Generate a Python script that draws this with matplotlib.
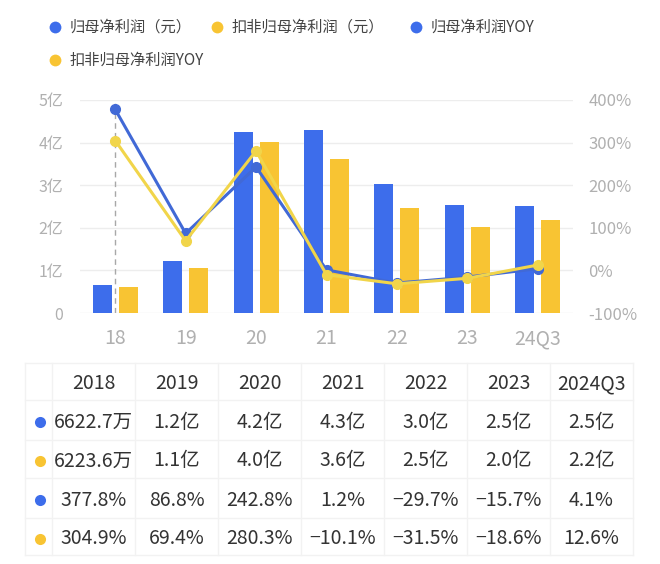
import numpy as np
import matplotlib.pyplot as plt

plt.rcParams['font.family'] = ['Noto Sans CJK SC', 'DejaVu Sans']

# data
cats = ['18', '19', '20', '21', '22', '23', '24Q3']
years = ['2018', '2019', '2020', '2021', '2022', '2023', '2024Q3']
profit = [0.662, 1.22, 4.24, 4.29, 3.02, 2.53, 2.51]        # 亿
profit_adj = [0.622, 1.06, 4.01, 3.61, 2.46, 2.02, 2.18]    # 亿
yoy = [377.8, 86.8, 242.8, 1.2, -29.7, -15.7, 4.1]
yoy_adj = [304.9, 69.4, 280.3, -10.1, -31.5, -18.6, 12.6]
row_profit = ['6622.7万', '1.2亿', '4.2亿', '4.3亿', '3.0亿', '2.5亿', '2.5亿']
row_profit_adj = ['6223.6万', '1.1亿', '4.0亿', '3.6亿', '2.5亿', '2.0亿', '2.2亿']
row_yoy = ['377.8%', '86.8%', '242.8%', '1.2%', '−29.7%', '−15.7%', '4.1%']
row_yoy_adj = ['304.9%', '69.4%', '280.3%', '−10.1%', '−31.5%', '−18.6%', '12.6%']
legend_names = ['归母净利润（元）', '扣非归母净利润（元）', '归母净利润YOY', '扣非归母净利润YOY']

BLUE = '#3D6DEB'
YELLOW = '#F8C433'
LBLUE = '#4169D6'
LYELLOW = '#F1D54A'
GRID = '#EDEDED'
TICK = '#B0B0B0'

W, H = 660, 564
fig = plt.figure(figsize=(W / 100, H / 100), dpi=100)

# main chart
ax = fig.add_axes([80 / W, 1 - 313 / H, 493 / W, 213 / H])
x = np.arange(len(cats))
bw = 0.27
ax.bar(x - 0.185, profit, bw, color=BLUE, zorder=2)
ax.bar(x + 0.185, profit_adj, bw, color=YELLOW, zorder=2)
ax.set_xlim(-0.5, len(cats) - 0.5)
ax.set_ylim(0, 5)
ax.set_yticks(range(6))
ax.set_yticklabels(['0'] + [f'{i}亿' for i in range(1, 6)])
ax.set_xticks(x)
ax.set_xticklabels(cats)
ax.grid(axis='y', color=GRID, lw=1, zorder=0)
for s in ax.spines.values():
    s.set_visible(False)
ax.tick_params(axis='y', length=0, pad=12, labelsize=11.5, labelcolor=TICK)
ax.tick_params(axis='x', length=0, pad=11, labelsize=14, labelcolor=TICK)
ax.axvline(0, color='#A8A8A8', lw=1, ls=(0, (4, 3)), zorder=3)

ax2 = ax.twinx()
ax2.set_ylim(-100, 400)
ax2.set_yticks(range(-100, 401, 100))
ax2.set_yticklabels([f'{v}%' for v in range(-100, 401, 100)])
for s in ax2.spines.values():
    s.set_visible(False)
ax2.tick_params(axis='y', length=0, pad=11, labelsize=12, labelcolor=TICK)
ax2.plot(x, yoy, color=LBLUE, lw=2.2, marker='o', ms=7, zorder=4)
ax2.plot(x, yoy_adj, color=LYELLOW, lw=2.2, marker='o', ms=7, zorder=5)

# overlay in pixel coords for legend and table
ov = fig.add_axes([0, 0, 1, 1], facecolor='none')
ov.set_xlim(0, W)
ov.set_ylim(H, 0)
ov.axis('off')

leg = [(55, 27, BLUE, legend_names[0]), (217, 27, YELLOW, legend_names[1]),
       (416, 27, BLUE, legend_names[2]), (55, 60, YELLOW, legend_names[3])]
for lx, ly, c, name in leg:
    ov.plot(lx, ly, 'o', color=c, ms=8.5, mec='none')
    ov.text(lx + 15, ly, name, fontsize=11, color='#444444', va='center', ha='left')

# table
t_left, t_right = 25, 633
col0 = 52
cw = (t_right - col0) / 7
rows_y = [363, 400, 440, 478, 518, 555]
for yy in rows_y:
    ov.plot([t_left, t_right], [yy, yy], color='#F2F2F2', lw=1)
for xx in [t_left, col0] + [col0 + cw * i for i in range(1, 8)]:
    ov.plot([xx, xx], [rows_y[0], rows_y[-1]], color='#F2F2F2', lw=1)

table_rows = [years, row_profit, row_profit_adj, row_yoy, row_yoy_adj]
dot_colors = [None, BLUE, YELLOW, BLUE, YELLOW]
for r, vals in enumerate(table_rows):
    cy = (rows_y[r] + rows_y[r + 1]) / 2 + 2
    if dot_colors[r]:
        ov.plot(40, cy, 'o', color=dot_colors[r], ms=8, mec='none')
    for i, v in enumerate(vals):
        ov.text(col0 + cw * (i + 0.5), cy, v, fontsize=14, color='#333333',
                ha='center', va='center')

fig.savefig('out.png', dpi=100)
